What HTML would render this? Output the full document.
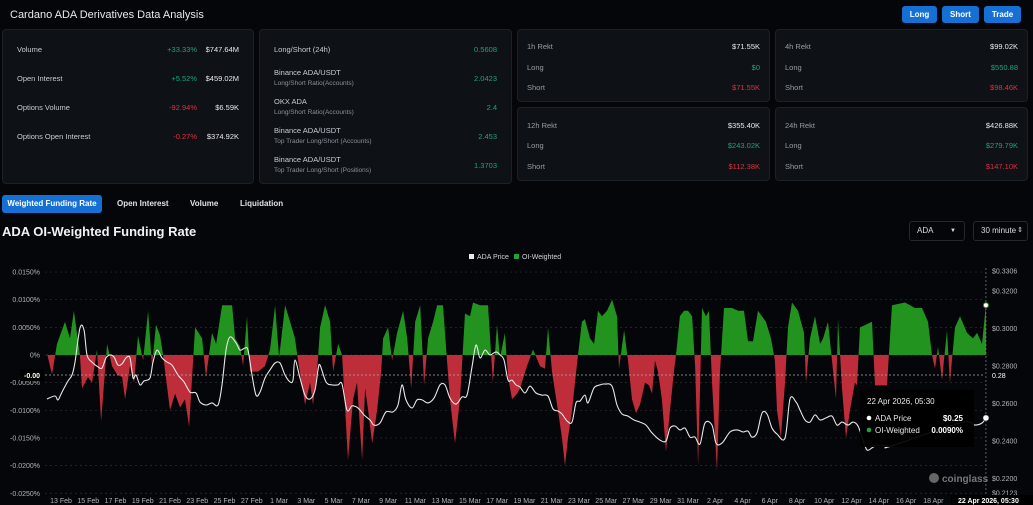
<!DOCTYPE html>
<html><head><meta charset="utf-8"><style>
*{box-sizing:border-box;margin:0;padding:0}
body{width:1033px;height:505px;background:#05060a;color:#d8dbe0;font-family:"Liberation Sans",sans-serif;overflow:hidden;position:relative}
.abs{position:absolute}
.card{position:absolute;background:#0e1116;border:1px solid #1c2027;border-radius:4px}
.t{position:absolute;font-size:7.5px;color:#c9ccd2;white-space:nowrap}
.s{position:absolute;font-size:6.5px;color:#8b9099;white-space:nowrap}
.r{text-align:right}
.g{color:#1fa37a}.d{color:#e0303f}.w{color:#e8eaee}
.btn{position:absolute;background:#1670d4;color:#fff;font-size:8px;font-weight:bold;border-radius:3px;text-align:center;line-height:17px;height:17px}
.tab{position:absolute;font-size:8px;font-weight:bold;color:#e0e3e8;top:199px}
.sel{position:absolute;border:1px solid #23272e;border-radius:3px;font-size:8px;color:#d8dbe0;line-height:18px;padding-left:7px;height:20px;top:221px}
</style></head><body>
<div class="abs" style="left:10px;top:9px;font-size:11px;color:#e6e8ec">Cardano ADA Derivatives Data Analysis</div>
<div class="btn" style="left:902px;top:6px;width:35px">Long</div>
<div class="btn" style="left:942px;top:6px;width:37px">Short</div>
<div class="btn" style="left:984px;top:6px;width:37px">Trade</div>

<div class="card" style="left:2px;top:29px;width:252px;height:155px">
<div class="t" style="left:14px;top:15px">Volume</div><div class="t g r" style="right:56px;top:15px">+33.33%</div><div class="t w r" style="right:14px;top:15px">$747.64M</div>
<div class="t" style="left:14px;top:44px">Open Interest</div><div class="t g r" style="right:56px;top:44px">+5.52%</div><div class="t w r" style="right:14px;top:44px">$459.02M</div>
<div class="t" style="left:14px;top:73px">Options Volume</div><div class="t d r" style="right:56px;top:73px">-92.94%</div><div class="t w r" style="right:14px;top:73px">$6.59K</div>
<div class="t" style="left:14px;top:102px">Options Open Interest</div><div class="t d r" style="right:56px;top:102px">-0.27%</div><div class="t w r" style="right:14px;top:102px">$374.92K</div>
</div>
<div class="card" style="left:259px;top:29px;width:253px;height:155px">
<div class="t" style="left:14px;top:15px">Long/Short (24h)</div><div class="t g r" style="right:14px;top:15px">0.5608</div>
<div class="t" style="left:14px;top:38px">Binance ADA/USDT</div><div class="s" style="left:14px;top:50px">Long/Short Ratio(Accounts)</div><div class="t g r" style="right:14px;top:44px">2.0423</div>
<div class="t" style="left:14px;top:67px">OKX ADA</div><div class="s" style="left:14px;top:79px">Long/Short Ratio(Accounts)</div><div class="t g r" style="right:14px;top:73px">2.4</div>
<div class="t" style="left:14px;top:96px">Binance ADA/USDT</div><div class="s" style="left:14px;top:108px">Top Trader Long/Short (Accounts)</div><div class="t g r" style="right:14px;top:102px">2.453</div>
<div class="t" style="left:14px;top:125px">Binance ADA/USDT</div><div class="s" style="left:14px;top:137px">Top Trader Long/Short (Positions)</div><div class="t g r" style="right:14px;top:131px">1.3703</div>
</div>
<div class="card" style="left:517px;top:29px;width:253px;height:73px">
<div class="t" style="left:9px;top:12px;color:#9a9ea6">1h Rekt</div><div class="t w r" style="right:9px;top:12px">$71.55K</div>
<div class="t" style="left:9px;top:33px;color:#9a9ea6">Long</div><div class="t g r" style="right:9px;top:33px">$0</div>
<div class="t" style="left:9px;top:53px;color:#9a9ea6">Short</div><div class="t d r" style="right:9px;top:53px">$71.55K</div></div>
<div class="card" style="left:775px;top:29px;width:253px;height:73px">
<div class="t" style="left:9px;top:12px;color:#9a9ea6">4h Rekt</div><div class="t w r" style="right:9px;top:12px">$99.02K</div>
<div class="t" style="left:9px;top:33px;color:#9a9ea6">Long</div><div class="t g r" style="right:9px;top:33px">$550.88</div>
<div class="t" style="left:9px;top:53px;color:#9a9ea6">Short</div><div class="t d r" style="right:9px;top:53px">$98.46K</div></div>
<div class="card" style="left:517px;top:107px;width:253px;height:74px">
<div class="t" style="left:9px;top:13px;color:#9a9ea6">12h Rekt</div><div class="t w r" style="right:9px;top:13px">$355.40K</div>
<div class="t" style="left:9px;top:33px;color:#9a9ea6">Long</div><div class="t g r" style="right:9px;top:33px">$243.02K</div>
<div class="t" style="left:9px;top:54px;color:#9a9ea6">Short</div><div class="t d r" style="right:9px;top:54px">$112.38K</div></div>
<div class="card" style="left:775px;top:107px;width:253px;height:74px">
<div class="t" style="left:9px;top:13px;color:#9a9ea6">24h Rekt</div><div class="t w r" style="right:9px;top:13px">$426.88K</div>
<div class="t" style="left:9px;top:33px;color:#9a9ea6">Long</div><div class="t g r" style="right:9px;top:33px">$279.79K</div>
<div class="t" style="left:9px;top:54px;color:#9a9ea6">Short</div><div class="t d r" style="right:9px;top:54px">$147.10K</div></div>

<div class="btn" style="left:2px;top:195px;width:100px;height:18px;line-height:18px">Weighted Funding Rate</div>
<div class="tab" style="left:117px">Open Interest</div>
<div class="tab" style="left:190px">Volume</div>
<div class="tab" style="left:240px">Liquidation</div>
<div class="abs" style="left:2px;top:224px;font-size:13px;font-weight:bold;color:#f0f2f5">ADA OI-Weighted Funding Rate</div>
<div class="sel" style="left:909px;width:56px">ADA<span style="position:absolute;right:8px;font-size:6px">▼</span></div>
<div class="sel" style="left:973px;width:55px">30 minute<span style="position:absolute;right:4px;font-size:7px">⇕</span></div>

<svg class="abs" style="left:0;top:0" width="1033" height="505">
<g id="grid"></g><g id="areas"></g><g id="line"></g><g id="over"></g>
</svg>
<script>
const fundingDays=[-1.03,-0.66,-0.29,0.29,0.66,0.95,1.39,1.54,1.98,2.28,2.64,2.94,3.38,3.74,4.11,4.48,4.70,5.06,5.36,5.65,6.02,6.39,6.68,6.97,7.27,7.49,8.00,8.37,8.74,9.10,9.40,9.62,9.84,10.35,10.64,11.08,11.38,11.82,12.55,12.77,13.14,13.36,13.65,13.87,14.46,14.97,15.34,15.71,16.0,16.44,16.81,17.17,17.39,17.91,18.27,18.49,18.79,19.01,19.38,19.74,19.96,20.33,20.62,21.06,21.43,21.72,22.09,22.31,22.53,22.83,23.19,23.49,23.63,24.0,24.29,24.66,25.10,25.40,25.69,25.99,26.35,26.64,26.93,27.30,27.59,28.03,28.32,28.54,28.91,29.27,29.64,30.01,30.23,30.74,31.33,31.69,31.99,32.21,32.57,32.80,33.09,33.46,33.68,34.19,34.63,35.14,35.51,35.73,36.02,36.46,36.76,36.98,37.20,37.49,37.71,37.93,38.22,38.44,38.81,39.11,39.40,39.69,40.06,40.43,40.79,40.94,41.31,41.60,41.89,42.19,42.48,42.85,43.14,43.36,43.58,43.80,44.09,44.39,44.68,44.97,45.12,45.41,45.71,46.0,46.30,46.52,46.74,47.03,47.32,47.54,47.76,48.13,48.35,48.64,49.23,49.67,50.11,50.40,50.77,51.14,51.72,52.09,52.38,52.53,52.82,53.12,53.34,53.63,54.07,54.51,54.66,54.95,55.32,55.69,55.91,56.27,56.57,56.86,57.01,57.30,57.59,57.89,58.25,58.40,58.62,59.06,59.50,59.72,60.60,60.97,61.92,62.66,63.17,63.61,63.90,64.12,64.34,64.64,65.0,65.22,65.59,65.96,66.47,66.91,67.21,67.57,67.86];
const fundingValues=[0.03,-0.35,0.2,0.6,0.3,0.8,0,-0.6,-0.4,-0.5,0.1,-1.2,0.2,-0.2,-0.35,-0.4,-0.8,-0.2,-0.5,0.35,-0.1,0.8,-0.2,0.55,0.35,0,-1.0,-0.7,-0.95,-0.8,-1.3,-0.4,0.5,0.3,-0.4,0.4,0.2,0.9,0.9,0.3,0.15,-0.2,0.7,-0.3,-0.3,-0.2,0.1,0.9,-0.05,0.9,0.6,0.3,-0.1,-0.9,-0.5,-0.9,-0.3,0.5,0.9,0.6,-0.3,0.2,0,-1.9,-0.8,-0.5,-1.9,-0.6,-1.0,-1.6,-1.0,-0.3,0.3,0.5,-0.1,0.4,0.8,0.3,-0.6,0.6,0.9,-0.55,0.3,0.6,0.9,0.9,-0.1,-0.8,-1.6,-0.8,0.75,0.7,0.95,0.9,0.9,-0.5,0.55,-0.05,0.4,-0.4,-0.8,-0.7,-0.6,-0.2,0.1,-0.2,-0.25,0.5,-0.3,-1.0,-1.5,-2.0,-1.5,-1.0,-0.5,0,0.6,0.65,0.3,0.2,0.8,0.7,0.8,1.0,0.7,-0.25,0.45,-0.1,-0.8,-1.05,-0.9,-0.5,-0.55,-0.7,-0.1,-0.3,-0.8,-1.75,-1.0,-0.3,0,0.7,0.8,0.8,0.7,-0.2,-2.0,0.85,0.7,0.8,-0.5,-2.1,-0.3,0.85,0.85,0.8,0.8,0.25,0.25,0.8,0.6,0.3,-0.1,-1.0,-1.5,-0.5,0.5,0.95,0.8,0.4,-0.5,0.3,0.7,0.2,0.3,0.6,-0.1,-0.8,0.65,-0.6,-1.5,-1.0,-0.5,-0.55,0.5,0.55,0.6,-0.55,-0.55,0.9,0.95,0.85,0.85,0.6,0,-0.25,0.15,-0.45,0.45,-0.5,0.5,0.7,0.4,0.3,0.4,0.2,0.9];
const priceYs=[399,396,400,392,381,375,362,328,330,355,362,367,368,358,355,357,365,364,358,358,378,375,385,381,378,362,350,358,362,365,375,382,392,393,402,405,403,405,385,350,337,343,350,348,350,375,395,392,378,370,363,363,375,382,380,360,378,395,399,390,370,365,382,385,385,384,410,406,408,415,420,425,423,412,412,405,385,400,408,400,400,403,398,385,385,398,404,397,395,367,345,358,350,355,352,355,360,380,380,385,387,393,386,393,395,396,409,411,414,421,422,403,401,395,403,388,385,384,386,405,414,416,420,422,425,433,440,441,428,426,430,428,437,437,444,423,425,443,443,432,430,432,431,437,433,413,414,428,434,438,399,402,410,420,422,415,420,418,416,425,422,425,422,426,440,450,448,445,446,446,423,425,423,418];
const priceXs=[47,55,58,62,68,72,75,80,84,87,92,98,102,106,110,114,118,122,126,130,133,136,140,144,150,153,157,162,167,172,178,184,190,196,200,206,212,218,222,226,230,236,240,245,248,252,256,260,265,270,275,280,285,290,293,295,300,305,310,315,318,320,326,332,338,342,347,352,358,364,370,374,380,386,393,398,402,406,412,417,422,428,434,440,445,450,456,462,467,472,476,480,485,490,496,500,504,508,512,516,520,525,530,536,542,548,553,558,562,567,572,576,580,585,588,594,600,605,612,617,622,628,634,640,646,652,660,666,670,675,680,685,690,695,700,705,712,716,722,730,737,743,748,752,757,762,767,772,777,785,790,796,800,805,810,815,820,826,832,837,842,848,853,858,863,867,872,877,887,891,960,975,982,986];
// convert price samples (read as pixel rows) into dollar values & days
const priceDays=priceXs.map(x=>(x-61)/13.63);
const priceValues=priceYs.map(y=>+(0.28-(y-366)/1875).toFixed(4));
const leftTicks=[0.015,0.01,0.005,0,-0.005,-0.01,-0.015,-0.02,-0.025];
const leftTickLabels=["0.0150%","0.0100%","0.0050%","0%","-0.0050%","-0.0100%","-0.0150%","-0.0200%","-0.0250%"];
const rightTicks=[0.3306,0.32,0.30,0.28,0.26,0.24,0.22,0.2123];
const rightTickLabels=["$0.3306","$0.3200","$0.3000","$0.2800","$0.2600","$0.2400","$0.2200","$0.2123"];
const dateLabels=["13 Feb","15 Feb","17 Feb","19 Feb","21 Feb","23 Feb","25 Feb","27 Feb","1 Mar","3 Mar","5 Mar","7 Mar","9 Mar","11 Mar","13 Mar","15 Mar","17 Mar","19 Mar","21 Mar","23 Mar","25 Mar","27 Mar","29 Mar","31 Mar","2 Apr","4 Apr","6 Apr","8 Apr","10 Apr","12 Apr","14 Apr","16 Apr","18 Apr"];

const NS="http://www.w3.org/2000/svg";
const X=d=>61+d*13.63;
const YL=v=>355-v*5530;        // v in percent (0.01 => 0.01%)
const YR=p=>366-(p-0.28)*1875;
function mk(tag,attrs,parent,text){const e=document.createElementNS(NS,tag);for(const k in attrs)e.setAttribute(k,attrs[k]);if(text!==undefined)e.textContent=text;parent.appendChild(e);return e;}
const grid=document.getElementById('grid'),areas=document.getElementById('areas'),line=document.getElementById('line'),over=document.getElementById('over');

leftTicks.forEach((v,i)=>{
  const gl=mk('line',{x1:45,x2:985,y1:YL(v),y2:YL(v),stroke:'#2a2d33','stroke-dasharray':'2,3','stroke-width':0.7},grid);
  
  
  const t=mk('text',{x:40,y:YL(v)+2.5,'text-anchor':'end','font-size':7,fill:'#b0b4bb'},grid,leftTickLabels[i]);
  
  
});
rightTicks.forEach((p,i)=>{
  const t=mk('text',{x:992,y:YR(p)+2.5,'font-size':7,fill:'#b0b4bb'},grid,rightTickLabels[i]);
  
  
});
dateLabels.forEach((s,i)=>{
  const t=mk('text',{x:X(i*2),y:503,'text-anchor':'middle','font-size':7,fill:'#b0b4bb'},grid,s);
  
  
});

// funding area
const defs=mk('defs',{},areas);
const y0=YL(0);
const c1=mk('clipPath',{id:'above'},defs);mk('rect',{x:0,y:0,width:1033,height:y0},c1);
const c2=mk('clipPath',{id:'below'},defs);mk('rect',{x:0,y:y0,width:1033,height:505},c2);
let d=`M${X(fundingDays[0])},${y0}`;
fundingDays.forEach((t,i)=>{d+=` L${X(t).toFixed(1)},${YL(fundingValues[i]/100).toFixed(1)}`;});
d+=` L${X(fundingDays[fundingDays.length-1])},${y0} Z`;
const ga=mk('path',{d:d,fill:'#22931f','clip-path':'url(#above)'},areas);


const ra=mk('path',{d:d,fill:'#bd2d3a','clip-path':'url(#below)'},areas);



// price line (catmull-rom smoothing)
const pts=priceDays.map((t,i)=>[X(t),YR(priceValues[i])]);
let pd=`M${pts[0][0]},${pts[0][1]}`;
for(let i=0;i<pts.length-1;i++){const p0=pts[i-1]||pts[i],p1=pts[i],p2=pts[i+1],p3=pts[i+2]||p2;
 pd+=` C${(p1[0]+(p2[0]-p0[0])/6).toFixed(1)},${(p1[1]+(p2[1]-p0[1])/6).toFixed(1)} ${(p2[0]-(p3[0]-p1[0])/6).toFixed(1)},${(p2[1]-(p3[1]-p1[1])/6).toFixed(1)} ${p2[0].toFixed(1)},${p2[1].toFixed(1)}`;}
const pl=mk('path',{d:pd,fill:'none',stroke:'#e8e8e8','stroke-width':1.1},line);



// crosshair & overlays
const lx=X(fundingDays[fundingDays.length-1]);
mk('line',{x1:lx,x2:lx,y1:268,y2:495,stroke:'#888','stroke-dasharray':'2,2','stroke-width':0.7},over);
mk('line',{x1:45,x2:985,y1:375,y2:375,stroke:'#aaa','stroke-dasharray':'2,2','stroke-width':0.7},over);
mk('rect',{x:20,y:369,width:24,height:12,fill:'#000'},over);
mk('text',{x:40,y:378,'text-anchor':'end','font-size':7,fill:'#fff','font-weight':'bold'},over,'-0.00');
mk('text',{x:992,y:378,'font-size':7,fill:'#fff'},over,'0.28');
mk('circle',{cx:lx,cy:YL(fundingValues[fundingValues.length-1]/100),r:2.5,fill:'#fff',stroke:'#22931f','stroke-width':1},over);
mk('circle',{cx:lx,cy:YR(priceValues[priceValues.length-1]),r:3,fill:'#fff',stroke:'#333','stroke-width':0.5},over);
// tooltip
const tt=mk('g',{},over);


mk('rect',{x:860,y:390,width:114,height:57,fill:'rgba(0,0,0,0.92)',rx:2},tt);
mk('text',{x:867,y:404,'font-size':8,fill:'#e8e8e8'},tt,'22 Apr 2026, 05:30');
mk('circle',{cx:869,cy:418,r:2.3,fill:'#fff'},tt);
mk('text',{x:875,y:421,'font-size':8,fill:'#e8e8e8'},tt,'ADA Price');
mk('text',{x:963,y:421,'font-size':8,fill:'#fff','text-anchor':'end','font-weight':'bold'},tt,'$0.25');
mk('circle',{cx:869,cy:430,r:2.3,fill:'#22a33a'},tt);
mk('text',{x:875,y:433,'font-size':8,fill:'#e8e8e8'},tt,'OI-Weighted');
mk('text',{x:963,y:433,'font-size':8,fill:'#fff','text-anchor':'end','font-weight':'bold'},tt,'0.0090%');
// x highlight label
mk('rect',{x:951,y:495,width:82,height:10,fill:'#000'},over);
mk('text',{x:958,y:503,'font-size':7,fill:'#fff','font-weight':'bold'},over,'22 Apr 2026, 05:30');
// legend
const lg=mk('g',{},over);


mk('rect',{x:469,y:254,width:5,height:5,fill:'#e8e8e8'},lg);
mk('text',{x:477,y:259,'font-size':7,fill:'#d0d3d8'},lg,'ADA Price');
mk('rect',{x:514,y:254,width:5,height:5,fill:'#22a33a'},lg);
mk('text',{x:522,y:259,'font-size':7,fill:'#d0d3d8'},lg,'OI-Weighted');
// watermark
const wm=mk('g',{},over);


mk('circle',{cx:934,cy:478,r:5,fill:'#666'},wm);
mk('text',{x:942,y:482,'font-size':10,fill:'#777','font-weight':'bold'},wm,'coinglass');
</script>
</body></html>
